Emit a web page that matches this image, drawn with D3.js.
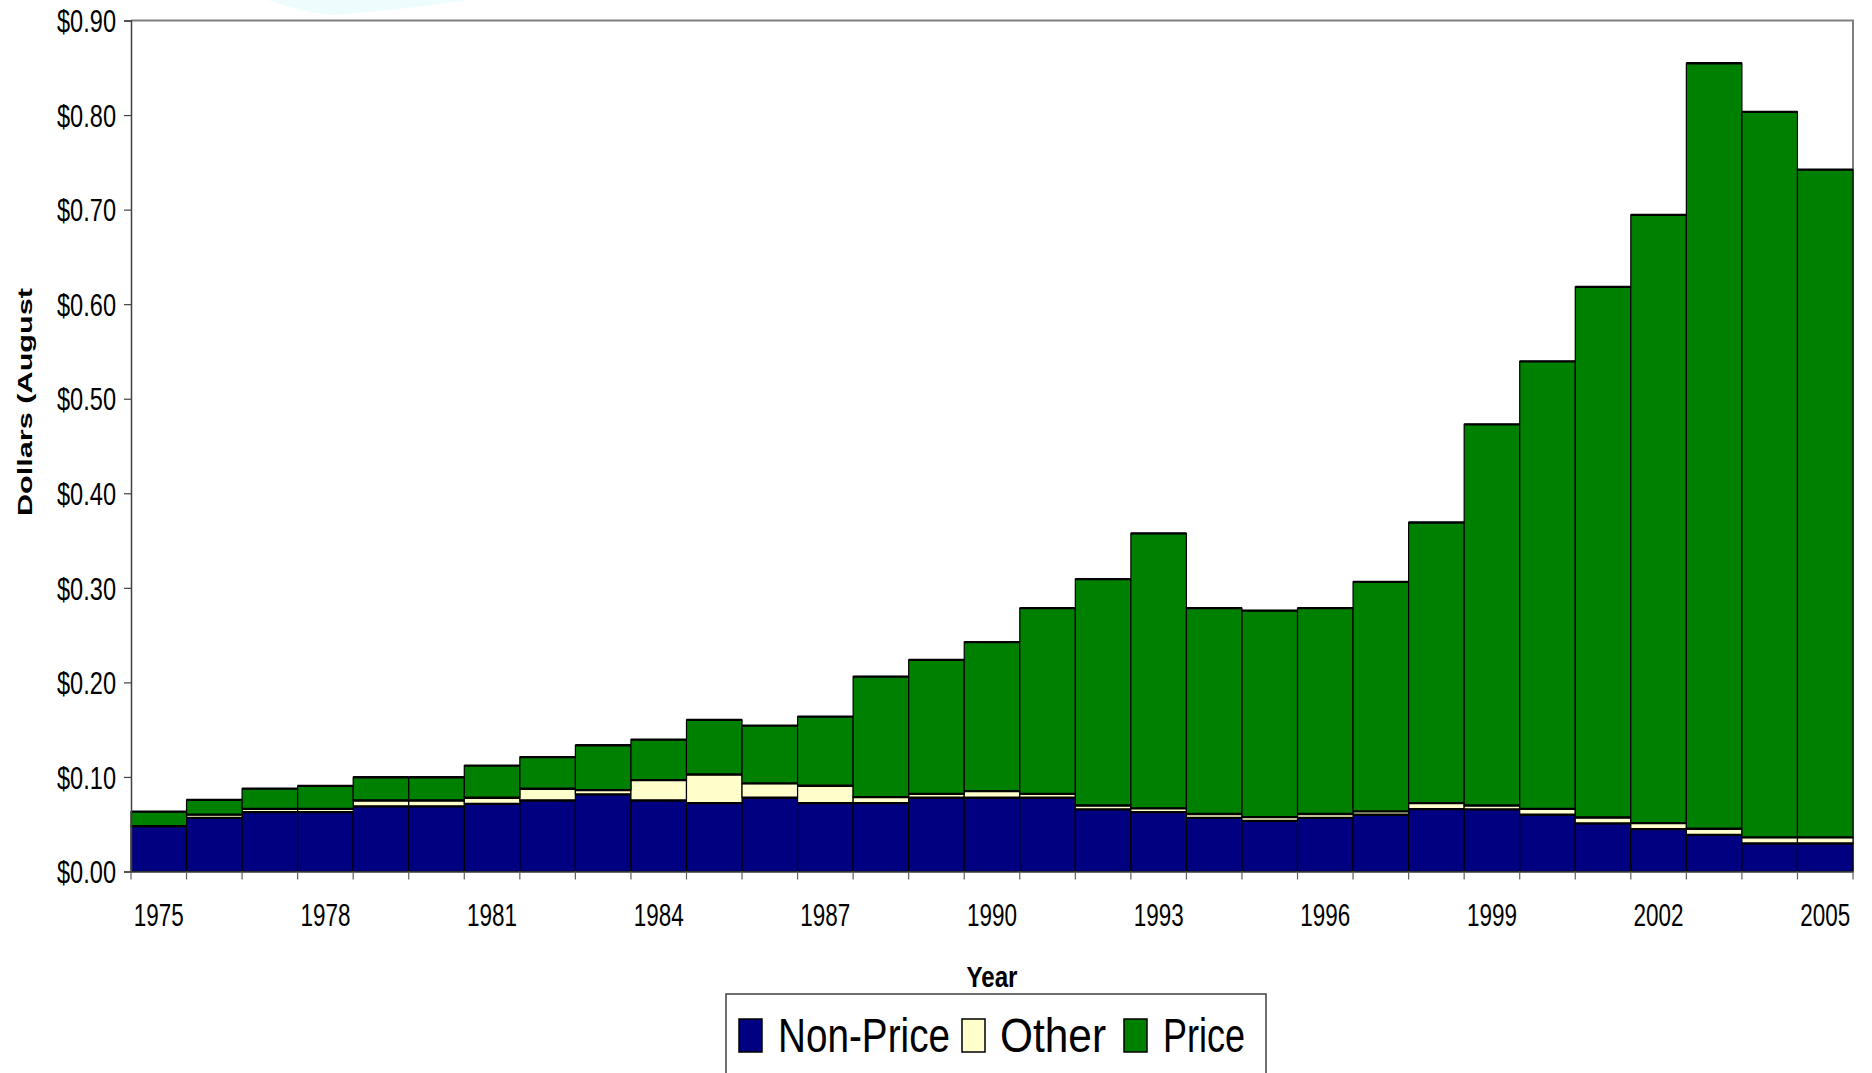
<!DOCTYPE html>
<html>
<head>
<meta charset="utf-8">
<script src="https://cdn.jsdelivr.net/npm/d3@7"></script>
<style>
  html, body { margin: 0; padding: 0; background: #fff; }
  svg { display: block; }
  text { font-family: "Liberation Sans", Arial, sans-serif; }
</style>
</head>
<body>
<script>
const years = d3.range(1975, 2006);
const nonPrice = [0.0480, 0.0568, 0.0628, 0.0628, 0.0688, 0.0688, 0.0716, 0.0751, 0.0815, 0.0751,
                  0.0723, 0.0780, 0.0723, 0.0723, 0.0780, 0.0780, 0.0780, 0.0656, 0.0628, 0.0568,
                  0.0536, 0.0568, 0.0600, 0.0660, 0.0656, 0.0600, 0.0508, 0.0448, 0.0388, 0.0296, 0.0296];
const other    = [0.0000, 0.0033, 0.0035, 0.0035, 0.0063, 0.0063, 0.0064, 0.0124, 0.0045, 0.0215,
                  0.0303, 0.0151, 0.0184, 0.0063, 0.0042, 0.0070, 0.0042, 0.0042, 0.0039, 0.0040,
                  0.0040, 0.0040, 0.0035, 0.0063, 0.0042, 0.0063, 0.0063, 0.0063, 0.0064, 0.0064, 0.0064];
const price    = [0.0153, 0.0156, 0.0213, 0.0242, 0.0246, 0.0246, 0.0340, 0.0335, 0.0475, 0.0429,
                  0.0577, 0.0612, 0.0731, 0.1276, 0.1416, 0.1575, 0.1963, 0.2394, 0.2908, 0.2177,
                  0.2184, 0.2177, 0.2427, 0.2968, 0.4031, 0.4732, 0.5611, 0.6433, 0.8096, 0.7674, 0.7063];
const seriesNames = ["Non-Price", "Other", "Price"];
const seriesColors = ["#000080", "#ffffcc", "#008000"];
const yTicks = [0, 0.1, 0.2, 0.3, 0.4, 0.5, 0.6, 0.7, 0.8, 0.9];
const xLabelYears = [1975, 1978, 1981, 1984, 1987, 1990, 1993, 1996, 1999, 2002, 2005];

const W = 1872, H = 1073;
const L = 131, R = 1853, T = 20.5, B = 871.5;

function fitWidth(sel, w) {
  sel.attr("textLength", w).attr("lengthAdjust", "spacingAndGlyphs");
}

const svg = d3.select("body").append("svg").attr("width", W).attr("height", H);

// faint background artifact at top
svg.append("path")
  .attr("d", "M268,0 Q300,12 333,15 Q400,10 469,0 Z")
  .attr("fill", "#effcfd");

const rows = years.map((y, i) => ({year: y, "Non-Price": nonPrice[i], "Other": other[i], "Price": price[i]}));
const stack = d3.stack().keys(seriesNames)(rows);

const x = d3.scaleBand().domain(years).range([L, R]).padding(0);
const y = d3.scaleLinear().domain([0, 0.9]).range([B, T]);
const color = d3.scaleOrdinal().domain(seriesNames).range(seriesColors);

// frame: top and right grey
svg.append("path")
  .attr("d", `M${L},${T} H${R} V${B}`)
  .attr("fill", "none").attr("stroke", "#808080").attr("stroke-width", 2);

// bars
const g = svg.append("g");
stack.forEach(s => {
  g.append("g").selectAll("rect").data(s).join("rect")
    .attr("x", d => x(d.data.year))
    .attr("width", x.bandwidth())
    .attr("y", d => y(d[1]))
    .attr("height", d => y(d[0]) - y(d[1]))
    .attr("fill", color(s.key))
    .attr("stroke", "#000").attr("stroke-width", 1.2);
});
// thick horizontal edges on segment tops
stack.forEach(s => {
  g.append("g").selectAll("line").data(s).join("line")
    .attr("x1", d => x(d.data.year)).attr("x2", d => x(d.data.year) + x.bandwidth())
    .attr("y1", d => y(d[1])).attr("y2", d => y(d[1]))
    .attr("stroke", "#000").attr("stroke-width", 2.3);
});

// y axis
const yAxis = d3.axisLeft(y).tickValues(yTicks).tickFormat(d3.format("$.2f")).tickSize(7).tickPadding(8);
const ya = svg.append("g").attr("transform", `translate(${L},0)`).call(yAxis);
ya.attr("font-family", null);
ya.select(".domain").attr("stroke", "#404040").attr("stroke-width", 1.5);
ya.selectAll(".tick line").attr("stroke", "#404040").attr("stroke-width", 1.2);
ya.selectAll(".tick text").attr("font-size", 32).attr("fill", "#000").attr("dy", "0.35em");
fitWidth(ya.selectAll(".tick text"), 59);

// x axis: labels every 3 years centered, ticks at band boundaries
const xAxis = d3.axisBottom(x).tickValues(xLabelYears).tickSize(0).tickPadding(32);
const xa = svg.append("g").attr("transform", `translate(0,${B})`).call(xAxis);
xa.attr("font-family", null);
xa.select(".domain").attr("stroke", "#404040").attr("stroke-width", 1.5);
xa.selectAll(".tick text").attr("font-size", 32).attr("fill", "#000");
fitWidth(xa.selectAll(".tick text"), 50);
const bounds = years.map(yr => x(yr)).concat([x.range()[1]]);
svg.append("g").selectAll("line").data(bounds).join("line")
  .attr("x1", d => d).attr("x2", d => d)
  .attr("y1", B).attr("y2", B + 8)
  .attr("stroke", "#606060").attr("stroke-width", 1.2);

// axis titles
const yearT = svg.append("text")
  .attr("x", 992).attr("y", 987)
  .attr("text-anchor", "middle").attr("font-weight", "bold").attr("font-size", 30)
  .text("Year");
fitWidth(yearT, 51);

svg.append("text")
  .attr("transform", "translate(32,402) rotate(-90)")
  .attr("text-anchor", "middle")
  .attr("font-weight", "bold").attr("font-size", 21)
  .attr("textLength", 228).attr("lengthAdjust", "spacingAndGlyphs")
  .text("Dollars (August");

// legend
const lg = svg.append("g");
lg.append("rect").attr("x", 726).attr("y", 994).attr("width", 540).attr("height", 100)
  .attr("fill", "#fff").attr("stroke", "#404040").attr("stroke-width", 1.5);
const legendItems = [
  {name: seriesNames[0], sx: 739, tx: 778, w: 172},
  {name: seriesNames[1], sx: 962, tx: 1000, w: 106},
  {name: seriesNames[2], sx: 1124, tx: 1163, w: 82}
];
legendItems.forEach(it => {
  lg.append("rect").attr("x", it.sx).attr("y", 1019).attr("width", 23).attr("height", 33)
    .attr("fill", color(it.name)).attr("stroke", "#000").attr("stroke-width", 1.5);
  const t = lg.append("text").attr("x", it.tx).attr("y", 1052)
    .attr("font-size", 49).attr("fill", "#000").text(it.name);
  fitWidth(t, it.w);
});
</script>
</body>
</html>
